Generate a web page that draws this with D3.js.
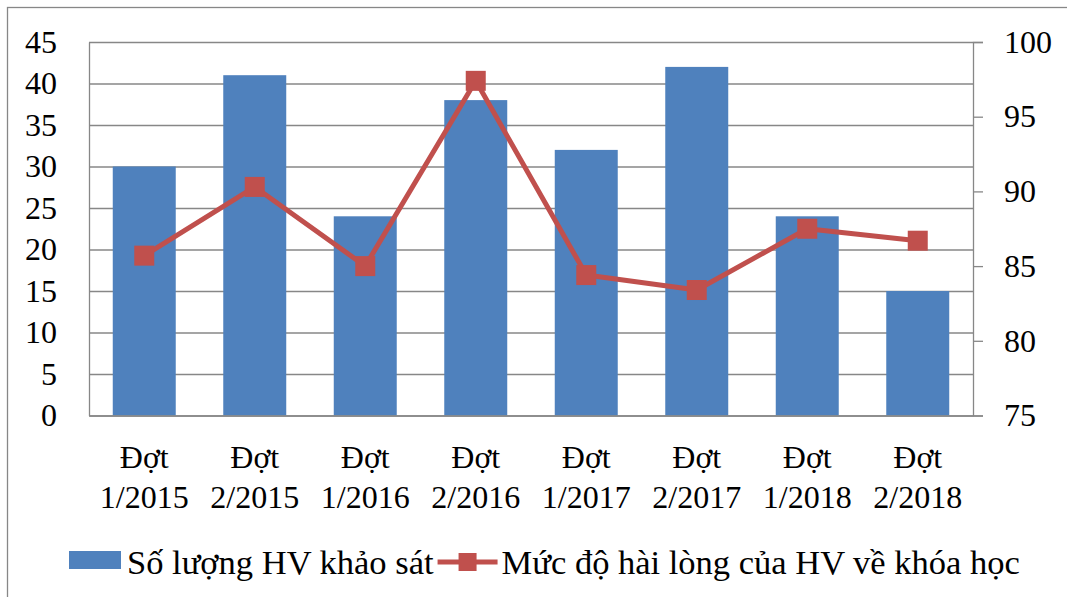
<!DOCTYPE html>
<html>
<head>
<meta charset="utf-8">
<script src="https://cdn.jsdelivr.net/npm/d3@7"></script>
<style>
  body { margin: 0; background: #fff; }
  svg text { fill: #000; }
</style>
</head>
<body>
<div id="chart"></div>
<script>
// data
const categories = ["Đợt 1/2015", "Đợt 2/2015", "Đợt 1/2016", "Đợt 2/2016",
                    "Đợt 1/2017", "Đợt 2/2017", "Đợt 1/2018", "Đợt 2/2018"];
const soLuongHV = [30, 41, 24, 38, 32, 42, 24, 15];
const mucDoHaiLong = [85.7, 90.3, 85.0, 97.4, 84.4, 83.4, 87.5, 86.7];
const leftTicks = [0, 5, 10, 15, 20, 25, 30, 35, 40, 45];
const rightTicks = [75, 80, 85, 90, 95, 100];
const seriesNames = ["Số lượng HV khảo sát", "Mức độ hài lòng của HV về khóa học"];

const width = 1067;
const height = 597;
const margin = {top: 42, right: 94, bottom: 181.5, left: 89};
const barColor = "#4F81BD";
const lineColor = "#C0504D";
const gridColor = "#878787";
const fontSize = 32;
const legendFontSize = 34.5;
const fontFamily = "'Liberation Serif', 'Times New Roman', Times, 'DejaVu Serif', serif";

const svg = d3.select("#chart")
    .append("svg")
    .attr("width", width)
    .attr("height", height)
    .attr("font-family", fontFamily);

// outer chart border (only top and left edges are visible in the picture)
svg.append("rect")
    .attr("x", 7.5).attr("y", 7.5)
    .attr("width", width + 20).attr("height", height + 20)
    .attr("fill", "none")
    .attr("stroke", gridColor)
    .attr("stroke-width", 1.3);

const x = d3.scaleBand()
    .domain(categories)
    .range([margin.left, width - margin.right])
    .paddingInner(0.43)
    .paddingOuter(0.215);

const yLeft = d3.scaleLinear()
    .domain([0, 45])
    .range([height - margin.bottom, margin.top]);

const yRight = d3.scaleLinear()
    .domain([75, 100])
    .range([height - margin.bottom, margin.top]);

// gridlines
svg.append("g")
    .attr("transform", `translate(${margin.left},0)`)
    .call(d3.axisLeft(yLeft).tickValues(leftTicks).tickSize(-(width - margin.left - margin.right)).tickFormat(""))
    .call(g => g.select(".domain").remove())
    .call(g => g.selectAll("line").attr("stroke", gridColor).attr("stroke-width", 1.3));

// bars
svg.selectAll("rect.bar")
    .data(soLuongHV)
    .enter()
    .append("rect")
    .attr("class", "bar")
    .attr("x", (d, i) => x(categories[i]))
    .attr("y", d => yLeft(d))
    .attr("width", x.bandwidth())
    .attr("height", d => yLeft(0) - yLeft(d))
    .attr("fill", barColor);

// left axis
svg.append("g")
    .attr("transform", `translate(${margin.left},0)`)
    .call(d3.axisLeft(yLeft).tickValues(leftTicks).tickSize(0).tickPadding(32))
    .attr("font-family", fontFamily)
    .attr("font-size", fontSize)
    .call(g => g.select(".domain").attr("stroke", gridColor).attr("stroke-width", 1.3))
    .call(g => g.selectAll("text").attr("fill", "#000"));

// right axis
svg.append("g")
    .attr("transform", `translate(${width - margin.right},0)`)
    .call(d3.axisRight(yRight).tickValues(rightTicks).tickSize(10).tickPadding(21))
    .attr("font-family", fontFamily)
    .attr("font-size", fontSize)
    .call(g => g.select(".domain").attr("stroke", gridColor).attr("stroke-width", 1.3))
    .call(g => g.selectAll("line").attr("stroke", gridColor).attr("stroke-width", 1.3))
    .call(g => g.selectAll("text").attr("fill", "#000"));

// bottom axis
const xAxis = svg.append("g")
    .attr("transform", `translate(0,${height - margin.bottom})`)
    .call(d3.axisBottom(x).tickSize(0).tickFormat(""))
    .attr("font-family", fontFamily)
    .attr("font-size", fontSize)
    .call(g => g.select(".domain").attr("stroke", gridColor).attr("stroke-width", 1.3));

xAxis.selectAll(".tick").each(function(d) {
    const parts = d.split(" ");
    const t = d3.select(this).append("text")
        .attr("text-anchor", "middle")
        .attr("fill", "#000");
    t.append("tspan").attr("x", 0).attr("y", 52).text(parts[0]);
    t.append("tspan").attr("x", 0).attr("y", 92).text(parts.slice(1).join(" "));
});

// line series
const line = d3.line()
    .x((d, i) => x(categories[i]) + x.bandwidth() / 2)
    .y(d => yRight(d));

svg.append("path")
    .datum(mucDoHaiLong)
    .attr("d", line)
    .attr("fill", "none")
    .attr("stroke", lineColor)
    .attr("stroke-width", 5)
    .attr("stroke-linejoin", "round");

const markerSize = 20;
svg.selectAll("rect.marker")
    .data(mucDoHaiLong)
    .enter()
    .append("rect")
    .attr("class", "marker")
    .attr("x", (d, i) => x(categories[i]) + x.bandwidth() / 2 - markerSize / 2)
    .attr("y", d => yRight(d) - markerSize / 2)
    .attr("width", markerSize)
    .attr("height", markerSize)
    .attr("fill", lineColor);

// legend
const legendY = 562;
const legend = svg.append("g").attr("font-size", legendFontSize);
legend.append("rect")
    .attr("x", 69).attr("y", legendY - 11)
    .attr("width", 52).attr("height", 18)
    .attr("fill", barColor);
const t1 = legend.append("text")
    .attr("x", 127).attr("y", legendY + 12)
    .text(seriesNames[0]);
const end1 = 127 + t1.node().getComputedTextLength();
legend.append("line")
    .attr("x1", end1 + 4).attr("x2", end1 + 64)
    .attr("y1", legendY).attr("y2", legendY)
    .attr("stroke", lineColor).attr("stroke-width", 5);
legend.append("rect")
    .attr("x", end1 + 34 - 9).attr("y", legendY - 9)
    .attr("width", 18).attr("height", 18)
    .attr("fill", lineColor);
legend.append("text")
    .attr("x", end1 + 68).attr("y", legendY + 12)
    .text(seriesNames[1]);
</script>
</body>
</html>
